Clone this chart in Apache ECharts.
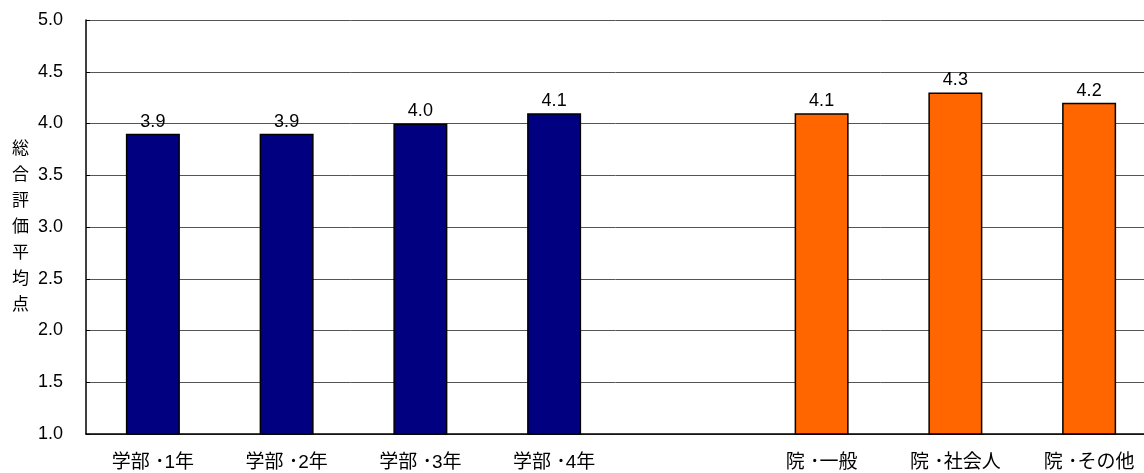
<!DOCTYPE html>
<html><head><meta charset="utf-8">
<script src="https://cdn.jsdelivr.net/npm/echarts@6/dist/echarts.min.js"></script>
<style>html,body{margin:0;padding:0;background:#fff}#c{width:1144px;height:473px}</style>
</head><body><div id="c"></div>
<script>
const categories = ['学部 ･1年','学部 ･2年','学部 ･3年','学部 ･4年','','院 ･一般','院 ･社会人','院 ･その他'];
const values = [3.9, 3.9, 4.0, 4.1, null, 4.1, 4.3, 4.2];
const colors = ['#000080','#000080','#000080','#000080','#000080','#FF6600','#FF6600','#FF6600'];
const yTicks = {min: 1.0, max: 5.0, interval: 0.5};
const yName = '総合評価平均点';

const chart = echarts.init(document.getElementById('c'));
const font = '"Liberation Sans", Arial, "Noto Sans CJK JP", sans-serif';
chart.setOption({
  animation: false,
  textStyle: {fontFamily: font},
  grid: {left: 86, right: -12, top: 20, bottom: 39, outerBoundsMode: 'none', containLabel: false},
  xAxis: {
    type: 'category', data: categories,
    axisLine: {lineStyle: {color: '#000', width: 1.5}},
    axisTick: {inside: true, length: 5, lineStyle: {color: '#000'}},
    axisLabel: {color: '#000', fontSize: 19, margin: 19, interval: 0, fontFamily: font}
  },
  yAxis: {
    type: 'value', min: yTicks.min, max: yTicks.max, interval: yTicks.interval,
    name: yName.split('').join('\n'), nameLocation: 'middle', nameRotate: 0, nameGap: 57,
    nameTextStyle: {color: '#000', fontSize: 17, lineHeight: 26, fontFamily: font},
    axisLine: {show: true, lineStyle: {color: '#000', width: 1.5}},
    axisTick: {show: true, inside: true, length: 4, lineStyle: {color: '#000'}},
    splitLine: {lineStyle: {color: '#555', width: 1}},
    axisLabel: {color: '#000', fontSize: 18, margin: 23, formatter: v => v.toFixed(1), fontFamily: font}
  },
  series: [{
    type: 'bar', barWidth: 54,
    data: values.map((v, i) => ({value: v, itemStyle: {color: colors[i]}})),
    itemStyle: {borderColor: '#000', borderWidth: 1.5},
    label: {show: true, position: 'top', distance: 3, color: '#000', fontSize: 18,
      formatter: p => p.value == null ? '' : Number(p.value).toFixed(1), fontFamily: font}
  }]
});
</script></body></html>
